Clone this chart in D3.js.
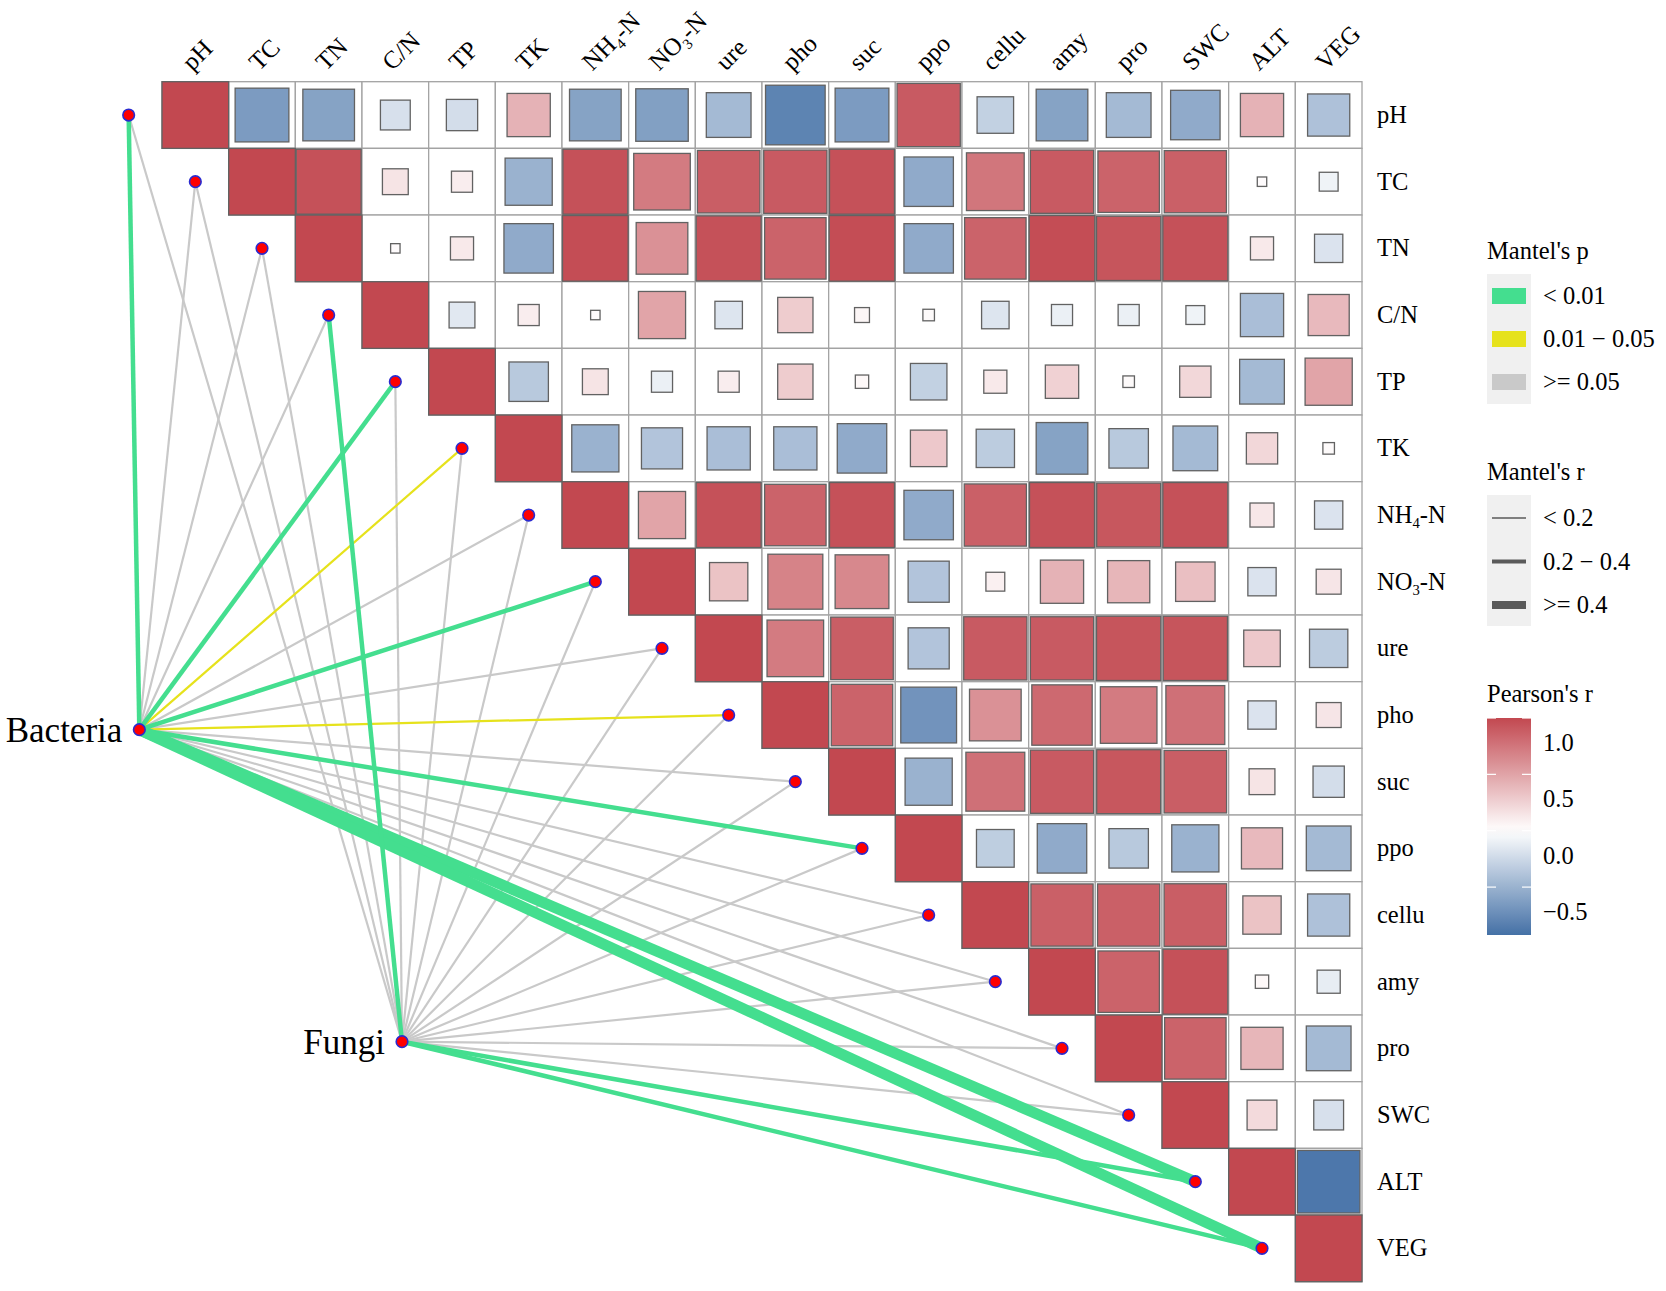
<!DOCTYPE html>
<html>
<head>
<meta charset="utf-8">
<script src="https://cdn.jsdelivr.net/npm/d3@7"></script>
<style>
  body { margin: 0; background: #fff; }
  text { font-family: "Liberation Serif", "Times New Roman", serif; fill: #000; }
</style>
</head>
<body>
<svg id="chart" width="1666" height="1291"></svg>
<script>
// environmental variables (row / column order)
const envVars = ["pH","TC","TN","C/N","TP","TK","NH4-N","NO3-N","ure","pho","suc","ppo","cellu","amy","pro","SWC","ALT","VEG"];

// Pearson's r, upper triangle: row i holds columns i..17
const rowPH    = [1, -0.65, -0.6, -0.2, -0.22, 0.42, -0.6, -0.62, -0.45, -0.8, -0.65, 0.9, -0.3, -0.6, -0.45, -0.55, 0.42, -0.4];
const rowTC    = [1, 0.95, 0.15, 0.1, -0.5, 0.95, 0.72, 0.88, 0.9, 0.95, -0.55, 0.75, 0.9, 0.85, 0.87, 0.02, -0.08];
const rowTN    = [1, 0.02, 0.12, -0.55, 0.97, 0.6, 0.95, 0.85, 0.97, -0.55, 0.85, 0.97, 0.93, 0.95, 0.12, -0.18];
const rowCN    = [1, -0.15, 0.1, 0.02, 0.5, -0.17, 0.28, 0.05, 0.03, -0.17, -0.1, -0.1, -0.08, -0.42, 0.38];
const rowTP    = [1, -0.35, 0.15, -0.1, 0.1, 0.28, 0.04, -0.3, 0.12, 0.25, 0.03, 0.22, -0.45, 0.5];
const rowTK    = [1, -0.5, -0.38, -0.42, -0.42, -0.55, 0.3, -0.33, -0.6, -0.35, -0.45, 0.22, 0.03];
const rowNH4   = [1, 0.5, 0.95, 0.85, 0.95, -0.55, 0.87, 0.95, 0.92, 0.95, 0.13, -0.18];
const rowNO3   = [1, 0.33, 0.68, 0.65, -0.38, 0.08, 0.42, 0.4, 0.35, -0.18, 0.14];
const rowUre   = [1, 0.72, 0.88, -0.38, 0.9, 0.9, 0.93, 0.93, 0.3, -0.33];
const rowPho   = [1, 0.85, -0.7, 0.6, 0.82, 0.72, 0.78, -0.18, 0.14];
const rowSuc   = [1, -0.5, 0.78, 0.9, 0.92, 0.88, 0.15, -0.22];
const rowPpo   = [1, -0.32, -0.55, -0.35, -0.5, 0.38, -0.45];
const rowCellu = [1, 0.87, 0.87, 0.88, 0.33, -0.4];
const rowAmy   = [1, 0.85, 0.95, 0.04, -0.12];
const rowPro   = [1, 0.85, 0.4, -0.45];
const rowSWC   = [1, 0.2, -0.2];
const rowALT   = [1, -0.88];
const rowVEG   = [1];
const corrRows = [rowPH, rowTC, rowTN, rowCN, rowTP, rowTK, rowNH4, rowNO3, rowUre,
                  rowPho, rowSuc, rowPpo, rowCellu, rowAmy, rowPro, rowSWC, rowALT, rowVEG];

// Mantel test results, one value per env variable
const bacteriaR = [0.3, 0.1, 0.08, 0.05, 0.3, 0.15, 0.1, 0.3, 0.1, 0.15, 0.1, 0.3, 0.1, 0.08, 0.1, 0.1, 0.55, 0.6];
const bacteriaP = [0.001, 0.2, 0.3, 0.5, 0.003, 0.03, 0.15, 0.002, 0.2, 0.02, 0.12, 0.004, 0.1, 0.3, 0.2, 0.15, 0.001, 0.001];
const fungiR    = [0.1, 0.08, 0.1, 0.3, 0.05, 0.1, 0.08, 0.1, 0.05, 0.1, 0.08, 0.1, 0.1, 0.05, 0.1, 0.1, 0.3, 0.3];
const fungiP    = [0.3, 0.4, 0.3, 0.002, 0.6, 0.3, 0.4, 0.2, 0.5, 0.3, 0.4, 0.2, 0.3, 0.5, 0.3, 0.25, 0.003, 0.004];

// legend labels
const pLabels = ["< 0.01", "0.01 \u2212 0.05", ">= 0.05"];
const rLabels = ["< 0.2", "0.2 \u2212 0.4", ">= 0.4"];
const colorTicks = [1.0, 0.5, 0.0, -0.5];

const svg = d3.select("#chart");
const n = envVars.length;

// grid scales (index -> pixel)
const gx = d3.scaleLinear().domain([0, n]).range([162, 1362]);
const gy = d3.scaleLinear().domain([0, n]).range([81.7, 1281.7]);
const cell = gx(1) - gx(0);

const color = d3.scaleLinear()
  .domain([-1, 0, 1])
  .range(["#35659f", "#ffffff", "#c24850"]);

const pColor = p => p < 0.01 ? "#44de8f" : p < 0.05 ? "#e6e21c" : "#c9c9c9";
const pClass = p => p < 0.01 ? 2 : p < 0.05 ? 1 : 0;
const rWidth = r => r < 0.2 ? 2.2 : r < 0.4 ? 4.5 : 11;

// ---- links ----
// species anchors in grid units (col, row)
const species = [
  { name: "Bacteria", col: -0.34, row: 9.72, r: bacteriaR, p: bacteriaP },
  { name: "Fungi",    col: 3.6,   row: 14.4, r: fungiR,    p: fungiP }
];

const links = [];
species.forEach(s => {
  envVars.forEach((v, i) => {
    links.push({ s, i, r: s.r[i], p: s.p[i] });
  });
});
links.sort((a, b) => pClass(a.p) - pClass(b.p));

const nodeX = i => gx(i - 0.5);
const nodeY = i => gy(i + 0.5);

svg.append("g").attr("class", "links")
  .selectAll("line").data(links).join("line")
    .attr("x1", d => gx(d.s.col))
    .attr("y1", d => gy(d.s.row))
    .attr("x2", d => nodeX(d.i))
    .attr("y2", d => nodeY(d.i))
    .attr("stroke", d => pColor(d.p))
    .attr("stroke-width", d => rWidth(d.r))
    .attr("stroke-linecap", "butt");

// ---- correlation grid ----
const cells = [];
corrRows.forEach((row, i) => {
  row.forEach((val, k) => cells.push({ i, j: i + k, val }));
});

const grid = svg.append("g").attr("class", "grid");
grid.selectAll("rect.bg").data(cells).join("rect")
  .attr("class", "bg")
  .attr("x", d => gx(d.j))
  .attr("y", d => gy(d.i))
  .attr("width", cell)
  .attr("height", cell)
  .attr("fill", "#fff")
  .attr("stroke", "#a3a3a3")
  .attr("stroke-width", 1.3);

grid.selectAll("rect.sq").data(cells).join("rect")
  .attr("class", "sq")
  .each(function(d) {
    const side = cell * Math.sqrt(Math.abs(d.val));
    d3.select(this)
      .attr("x", gx(d.j + 0.5) - side / 2)
      .attr("y", gy(d.i + 0.5) - side / 2)
      .attr("width", side)
      .attr("height", side);
  })
  .attr("fill", d => color(d.val))
  .attr("stroke", "#626262")
  .attr("stroke-width", 1.3);

// ---- nodes ----
const nodes = envVars.map((v, i) => ({ x: nodeX(i), y: nodeY(i) }))
  .concat(species.map(s => ({ x: gx(s.col), y: gy(s.row) })));
svg.append("g").selectAll("circle").data(nodes).join("circle")
  .attr("cx", d => d.x)
  .attr("cy", d => d.y)
  .attr("r", 5.8)
  .attr("fill", "#ff0000")
  .attr("stroke", "#2a2ad0")
  .attr("stroke-width", 1.6);

// species labels
svg.append("g").selectAll("text").data(species).join("text")
  .attr("x", d => gx(d.col) - 17)
  .attr("y", d => gy(d.row) + 12)
  .attr("text-anchor", "end")
  .attr("font-size", 35)
  .text(d => d.name);

// ---- axis labels ----
function labelText(sel, name, size) {
  const m = name.match(/^(NH|NO)(\d)-N$/);
  if (m) {
    sel.append("tspan").text(m[1]);
    sel.append("tspan").attr("font-size", size * 0.6).attr("dy", size * 0.22).text(m[2]);
    sel.append("tspan").attr("dy", -size * 0.22).text("-N");
  } else {
    sel.text(name);
  }
}

const rowLab = svg.append("g");
envVars.forEach((v, i) => {
  const t = rowLab.append("text")
    .attr("x", gx(n) + 15)
    .attr("y", gy(i + 0.5) + 8)
    .attr("font-size", 24.5);
  labelText(t, v, 24.5);
});

const colLab = svg.append("g");
envVars.forEach((v, j) => {
  const x0 = gx(j + 0.5) - 3, y0 = gy(0) - 10;
  const t = colLab.append("text")
    .attr("transform", `translate(${x0},${y0}) rotate(-45)`)
    .attr("font-size", 25);
  labelText(t, v, 25);
});

// ---- legends ----
const lg = svg.append("g");
const lx = 1487;

// Mantel's p
lg.append("text").attr("x", lx).attr("y", 259).attr("font-size", 24.5).text("Mantel's p");
lg.append("rect").attr("x", lx).attr("y", 274).attr("width", 44).attr("height", 130).attr("fill", "#f0f0f0");
const pKeys = [0.001, 0.03, 0.5];
pKeys.forEach((p, k) => {
  const cy = 296 + k * 43;
  lg.append("rect").attr("x", lx + 5).attr("y", cy - 8).attr("width", 34).attr("height", 16).attr("fill", pColor(p));
  lg.append("text").attr("x", lx + 56).attr("y", cy + 8).attr("font-size", 24.5).text(pLabels[k]);
});

// Mantel's r
lg.append("text").attr("x", lx).attr("y", 480).attr("font-size", 24.5).text("Mantel's r");
lg.append("rect").attr("x", lx).attr("y", 495).attr("width", 44).attr("height", 131).attr("fill", "#f0f0f0");
const rKeyW = [1.5, 4, 8];
rKeyW.forEach((w, k) => {
  const cy = 518 + k * 43.5;
  lg.append("line").attr("x1", lx + 5).attr("x2", lx + 39).attr("y1", cy).attr("y2", cy)
    .attr("stroke", "#5a5a5a").attr("stroke-width", w);
  lg.append("text").attr("x", lx + 56).attr("y", cy + 8).attr("font-size", 24.5).text(rLabels[k]);
});

// Pearson's r colour bar
lg.append("text").attr("x", lx).attr("y", 702).attr("font-size", 24.5).text("Pearson's r");
const barScale = d3.scaleLinear().domain([-0.925, 1.0]).range([935, 718]);
const grad = svg.append("defs").append("linearGradient")
  .attr("id", "pgrad").attr("x1", 0).attr("y1", 1).attr("x2", 0).attr("y2", 0);
d3.range(0, 1.0001, 0.05).forEach(t => {
  const v = -0.925 + t * 1.925;
  grad.append("stop").attr("offset", t).attr("stop-color", color(v));
});
lg.append("rect").attr("x", lx).attr("y", 718).attr("width", 44).attr("height", 217).attr("fill", "url(#pgrad)");
colorTicks.forEach(v => {
  const y = barScale(v);
  lg.append("line").attr("x1", lx).attr("x2", lx + 9).attr("y1", y).attr("y2", y).attr("stroke", "#fff").attr("stroke-width", 1.2);
  lg.append("line").attr("x1", lx + 35).attr("x2", lx + 44).attr("y1", y).attr("y2", y).attr("stroke", "#fff").attr("stroke-width", 1.2);
  lg.append("text").attr("x", lx + 56).attr("y", y + 33).attr("font-size", 24.5)
    .text(d3.format(".1f")(v).replace("-", "\u2212"));
});
</script>
</body>
</html>
